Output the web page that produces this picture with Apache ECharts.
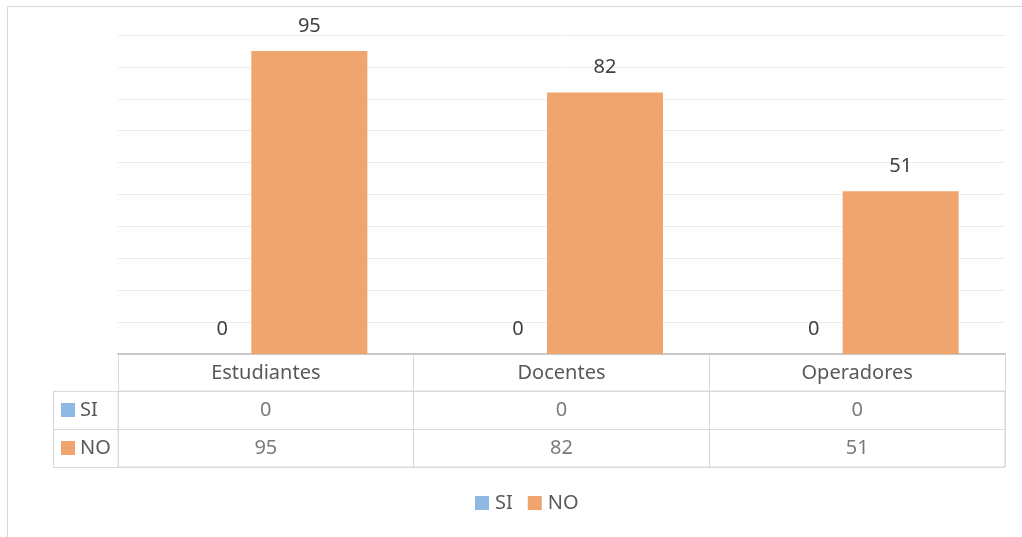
<!DOCTYPE html>
<html>
<head>
<meta charset="utf-8">
<script src="https://cdn.jsdelivr.net/npm/echarts@6/dist/echarts.min.js"></script>
<style>
html,body{margin:0;padding:0;background:#fff;}
#c{width:1022px;height:537px;}
</style>
</head>
<body>
<div id="c"></div>
<script>
const categories = ['Estudiantes', 'Docentes', 'Operadores'];
const seriesNames = ['SI', 'NO'];
const siValues = [0, 0, 0];
const noValues = [95, 82, 51];

const colors = { SI: '#8EB9E2', NO: '#F0A46E' };
const FONT = 'Noto Sans';
const TXT = '#595959';
const LINE = '#d9d9d9';

const tableData = [];
categories.forEach((c, i) => {
  tableData.push([c, 'SI', siValues[i]]);
  tableData.push([c, 'NO', noValues[i]]);
});

const chart = echarts.init(document.getElementById('c'), null, { renderer: 'canvas' });
chart.setOption({
  animation: false,
  textStyle: { fontFamily: FONT },
  graphic: [{
    type: 'rect', silent: true, z: -10,
    shape: { x: 7.5, y: 6.5, width: 1100, height: 600 },
    style: { fill: 'none', stroke: LINE, lineWidth: 1 }
  }],
  legend: {
    bottom: 19, left: 470,
    data: seriesNames,
    icon: 'rect', itemWidth: 14, itemHeight: 14, itemGap: 15,
    textStyle: { fontSize: 20, color: TXT, fontFamily: FONT, padding: [0, 0, 0, 1] }
  },
  grid: [
    { left: 118, right: 17, top: 35, height: 319 },
    { left: 118, right: 17, top: 391, height: 76, show: true, borderColor: LINE, borderWidth: 1 }
  ],
  xAxis: [
    {
      gridIndex: 0, type: 'category', data: categories, position: 'bottom',
      axisLine: { show: true, lineStyle: { color: '#c8c8c8', width: 2 } },
      axisTick: { show: true, inside: false, interval: 0, length: 37, lineStyle: { color: LINE } },
      axisLabel: { show: true, fontSize: 20, color: TXT, fontFamily: FONT, margin: 9 }
    },
    {
      gridIndex: 1, type: 'category', data: categories, position: 'top',
      axisLine: { show: true, lineStyle: { color: LINE } },
      axisTick: { show: false },
      axisLabel: { show: false },
      splitLine: { show: true, interval: 0, lineStyle: { color: LINE } }
    }
  ],
  yAxis: [
    {
      gridIndex: 0, type: 'value', min: 0, max: 100, interval: 10,
      axisLabel: { show: false }, axisLine: { show: false }, axisTick: { show: false },
      splitLine: { lineStyle: { color: '#ececec', width: 1 } }
    },
    {
      gridIndex: 1, type: 'category', data: seriesNames, inverse: true,
      axisLine: { show: true, lineStyle: { color: LINE } },
      axisTick: { show: true, interval: 0, length: 65, lineStyle: { color: LINE } },
      splitLine: { show: true, interval: 0, lineStyle: { color: LINE } },
      axisLabel: {
        align: 'left', margin: 57,
        formatter: v => '{' + v + '|}{t|' + v + '}',
        rich: {
          SI: { backgroundColor: colors.SI, width: 14, height: 14 },
          NO: { backgroundColor: colors.NO, width: 14, height: 14 },
          t: { fontSize: 20, color: TXT, fontFamily: FONT, padding: [0, 0, 0, 5] }
        }
      }
    },
    {
      gridIndex: 1, type: 'value', position: 'left', offset: 65,
      axisLine: { show: true, lineStyle: { color: LINE } },
      axisTick: { show: false }, axisLabel: { show: false }, splitLine: { show: false }
    }
  ],
  series: [
    {
      name: 'SI', type: 'bar', xAxisIndex: 0, yAxisIndex: 0,
      data: siValues, barWidth: 116, barGap: '-25%',
      itemStyle: { color: colors.SI },
      label: { show: true, position: 'top', distance: 15, fontSize: 20, color: '#404040', fontFamily: FONT }
    },
    {
      name: 'NO', type: 'bar', xAxisIndex: 0, yAxisIndex: 0,
      data: noValues, barWidth: 116, barGap: '-25%',
      itemStyle: { color: colors.NO },
      label: { show: true, position: 'top', distance: 15, fontSize: 20, color: '#404040', fontFamily: FONT }
    },
    {
      name: 'tabla', type: 'scatter', xAxisIndex: 1, yAxisIndex: 1,
      data: tableData, symbolSize: 1, itemStyle: { color: 'rgba(0,0,0,0)' },
      label: {
        show: true, position: 'inside', fontSize: 20, color: TXT, fontFamily: FONT,
        formatter: p => String(p.data[2])
      },
      silent: true
    }
  ]
});
</script>
</body>
</html>
